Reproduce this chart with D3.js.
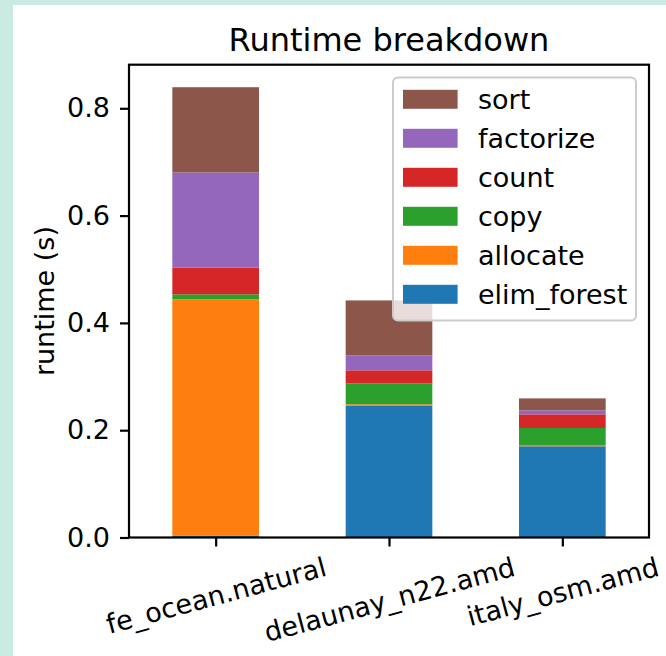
<!DOCTYPE html>
<html>
<head>
<meta charset="utf-8">
<script src="https://cdn.jsdelivr.net/npm/d3@7"></script>
<style>
	html, body { margin: 0; padding: 0; background: #cbeae3; }
	svg { display: block; font-family: "DejaVu Sans", sans-serif; }
</style>
</head>
<body>
<svg id="chart" width="666" height="656"></svg>
<script>
;(() => {
	'use strict';

	// data
	const matrices = ['fe_ocean.natural', 'delaunay_n22.amd', 'italy_osm.amd'];
	const phases = ['elim_forest', 'allocate', 'copy', 'count', 'factorize', 'sort'];
	const elimForest = [0.003, 0.246, 0.170],
		allocate = [0.441, 0.0024, 0.0025],
		copy = [0.0093, 0.0385, 0.0316],
		count = [0.050, 0.0247, 0.0255],
		factorize = [0.177, 0.0279, 0.0074],
		sort = [0.159, 0.1024, 0.0223];
	const yTicks = [0.0, 0.2, 0.4, 0.6, 0.8];
	const colors = ['#1f77b4', '#ff7f0e', '#2ca02c', '#d62728', '#9467bd', '#8c564b'];

	const width = 666,
		height = 656,
		plot = {left: 129, right: 649, top: 64.7, bottom: 537.5},
		fontSize = 27,
		lineW = 2.2;

	const svg = d3.select('#chart');

	// white figure background, teal strip shows left and top
	svg.append('rect')
		.attr('x', 13).attr('y', 5)
		.attr('width', width - 13).attr('height', height - 5)
		.attr('fill', '#fff');

	const rows = matrices.map((m, i) => ({
		matrix: m,
		elim_forest: elimForest[i],
		allocate: allocate[i],
		copy: copy[i],
		count: count[i],
		factorize: factorize[i],
		sort: sort[i]
	}));

	const stacked = d3.stack().keys(phases)(rows);
	const maxTotal = d3.max(rows, (d) => d3.sum(phases, (p) => d[p]));

	const x = d3.scaleLinear().domain([-0.5, matrices.length - 0.5]).range([plot.left, plot.right]),
		y = d3.scaleLinear().domain([0, maxTotal * 1.05]).range([plot.bottom, plot.top]),
		color = d3.scaleOrdinal().domain(phases).range(colors);

	const barW = 0.5;

	// bars
	svg.append('g')
		.selectAll('g')
		.data(stacked)
		.enter()
		.append('g')
		.attr('fill', (s) => color(s.key))
		.selectAll('rect')
		.data((s) => s)
		.enter()
		.append('rect')
		.attr('x', (d, i) => x(i - barW / 2))
		.attr('width', x(barW) - x(0))
		.attr('y', (d) => y(d[1]))
		.attr('height', (d) => y(d[0]) - y(d[1]));

	// y axis
	const yAxis = svg.append('g')
		.attr('transform', `translate(${plot.left},0)`)
		.call(d3.axisLeft(y).tickValues(yTicks).tickFormat(d3.format('.1f')).tickSize(9).tickPadding(10));
	yAxis.select('.domain').remove();
	yAxis.selectAll('.tick line').attr('stroke', '#000').attr('stroke-width', lineW);
	yAxis.selectAll('.tick text')
		.attr('font-size', fontSize)
		.attr('font-family', '"DejaVu Sans", sans-serif')
		.attr('fill', '#000');

	// x axis
	const xAxis = svg.append('g')
		.attr('transform', `translate(0,${plot.bottom})`)
		.call(d3.axisBottom(x).tickValues(d3.range(matrices.length)).tickFormat((i) => matrices[i]).tickSize(9));
	xAxis.select('.domain').remove();
	xAxis.selectAll('.tick line').attr('stroke', '#000').attr('stroke-width', lineW);

	// rotated labels, bbox centred on the tick (matplotlib style)
	const angle = 15 * Math.PI / 180;
	xAxis.selectAll('.tick text')
		.attr('font-size', fontSize)
		.attr('font-family', '"DejaVu Sans", sans-serif')
		.attr('fill', '#000')
		.attr('dy', null)
		.attr('y', 0)
		.attr('text-anchor', 'middle')
		.attr('dominant-baseline', 'central')
		.each(function() {
			const w = this.getComputedTextLength(),
				h = fontSize,
				boxH = w * Math.sin(angle) + h * Math.cos(angle),
				cy = 9 + 9.6 + boxH / 2 - 3;
			d3.select(this).attr('transform', `translate(0,${cy}) rotate(-15)`);
		});

	// frame
	svg.append('rect')
		.attr('x', plot.left).attr('y', plot.top)
		.attr('width', plot.right - plot.left).attr('height', plot.bottom - plot.top)
		.attr('fill', 'none')
		.attr('stroke', '#000')
		.attr('stroke-width', lineW);

	// title and y label
	svg.append('text')
		.attr('x', (plot.left + plot.right) / 2)
		.attr('y', 51)
		.attr('text-anchor', 'middle')
		.attr('font-size', 32)
		.text('Runtime breakdown');

	svg.append('text')
		.attr('transform', `translate(44,${(plot.top + plot.bottom) / 2}) rotate(-90)`)
		.attr('text-anchor', 'middle')
		.attr('dominant-baseline', 'central')
		.attr('font-size', fontSize)
		.text('runtime (s)');

	// legend, top phase first
	const legend = svg.append('g');
	legend.append('rect')
		.attr('x', 393).attr('y', 77.5)
		.attr('width', 243).attr('height', 243)
		.attr('rx', 5)
		.attr('fill', '#fff')
		.attr('fill-opacity', 0.8)
		.attr('stroke', '#cccccc')
		.attr('stroke-width', 2);

	const items = legend.selectAll('g.item')
		.data(phases.slice().reverse())
		.enter()
		.append('g')
		.attr('class', 'item')
		.attr('transform', (d, i) => `translate(403,${99.3 + i * 39})`);

	items.append('rect')
		.attr('x', 0).attr('y', -9.5)
		.attr('width', 54.6).attr('height', 19)
		.attr('fill', (d) => color(d));

	items.append('text')
		.attr('x', 75)
		.attr('y', 0)
		.attr('dominant-baseline', 'central')
		.attr('font-size', fontSize)
		.text((d) => d);
})();
</script>
</body>
</html>
